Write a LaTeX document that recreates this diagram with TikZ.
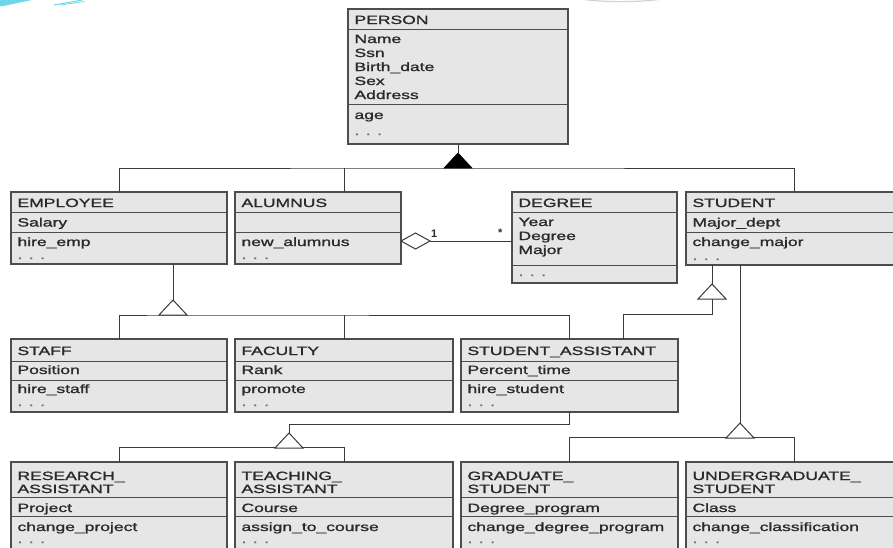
\documentclass[tikz,border=0pt]{standalone}
\usepackage{fontspec}
\setmainfont{Liberation Sans}
\newfontfamily\classfont[FakeBold=1.2]{Liberation Sans}
\usepackage{graphicx}
\usetikzlibrary{fit}

\definecolor{boxfill}{HTML}{E6E6E6}
\definecolor{boxline}{HTML}{4D4D4D}
\definecolor{wire}{HTML}{3A3A3A}
\definecolor{ink}{HTML}{2A2A2A}
\definecolor{dotgray}{HTML}{707070}
\definecolor{streak}{HTML}{6FD6EA}

% horizontally widened lettering
\newcommand\hs[1]{\scalebox{1.46}[1]{#1}}

\tikzset{
  cls/.style={draw=boxline, fill=boxfill, line width=1.1pt, inner sep=0pt, outer sep=0pt},
  sepline/.style={draw=boxline, line width=0.9pt},
  txt/.style={anchor=base west, inner sep=0pt, outer sep=0pt, text=ink,
              font=\classfont\fontsize{12}{14}\selectfont},
  dotrow/.style={txt, text=dotgray},
  mult/.style={anchor=base west, inner sep=0pt, text=ink,
              font=\fontsize{11}{13}\selectfont\bfseries},
  link/.style={draw=wire, line width=1pt},
  hollow/.style={draw=wire, line width=1pt, fill=white, line join=miter},
  solid/.style={draw=black, fill=black, line width=0.6pt, line join=miter},
}

% class box: name, left, top, right, bottom, first divider, second divider
\newcommand\umlbox[7]{%
  \node[cls, fit={(#2,#3) (#4,#5)}] (#1) {};
  \draw[sepline] (#2,#6) -- (#4,#6);
  \draw[sepline] (#2,#7) -- (#4,#7);
}
% one line of text in a class box: name, x, baseline, text
\newcommand\rowtext[4]{\node[txt] (#1) at (#2,#3) {\hs{#4}};}
\newcommand\rowdots[3]{\node[dotrow] (#1) at (#2,#3) {\hs{. . .}};}
% inheritance triangle hanging below its apex
\newcommand\isatri[2]{\draw[#1] (#2) -- ++(-14,15) -- ++(28,0) -- cycle;}

\begin{document}
\begin{tikzpicture}[x=1pt, y=-1pt]
\useasboundingbox (0,0) rectangle (893,547);
\clip (0,0) rectangle (893,547);

% stray marks along the top edge
\fill[streak] (0,0) -- (32,0) -- (3,6) -- (0,6) -- cycle;
\draw[streak, line width=1pt] (54,5) -- (82,0);
\draw[streak, line width=0.8pt] (60,5) -- (84,1.5);
\draw[gray!35, line width=1.2pt] (582,-1) .. controls (600,2.5) and (640,2.5) .. (662,-1);

% ---------- classes ----------
\umlbox{person}{348}{9}{568}{144}{29}{104}
\rowtext{person-h}{354.5}{24}{PERSON}
\rowtext{person-a1}{354.5}{43}{Name}
\rowtext{person-a2}{354.5}{57}{Ssn}
\rowtext{person-a3}{354.5}{71}{Birth\_date}
\rowtext{person-a4}{354.5}{85}{Sex}
\rowtext{person-a5}{354.5}{99}{Address}
\rowtext{person-m1}{354.5}{119}{age}
\rowdots{person-d}{354.5}{135}

\umlbox{employee}{11}{192}{227}{264}{212}{232}
\rowtext{employee-h}{17.5}{207}{EMPLOYEE}
\rowtext{employee-a1}{17.5}{226.5}{Salary}
\rowtext{employee-m1}{17.5}{246}{hire\_emp}
\rowdots{employee-d}{17.5}{259}

\umlbox{alumnus}{235}{192}{401}{264}{212}{232}
\rowtext{alumnus-h}{241.5}{207}{ALUMNUS}
\rowtext{alumnus-m1}{241.5}{246}{new\_alumnus}
\rowdots{alumnus-d}{241.5}{259}

\umlbox{degree}{512}{192}{677}{283}{212}{265}
\rowtext{degree-h}{518.5}{207}{DEGREE}
\rowtext{degree-a1}{518.5}{226}{Year}
\rowtext{degree-a2}{518.5}{240}{Degree}
\rowtext{degree-a3}{518.5}{254}{Major}
\rowdots{degree-d}{518.5}{276}

\umlbox{student}{686}{192}{902}{265}{212}{232}
\rowtext{student-h}{692.5}{207}{STUDENT}
\rowtext{student-a1}{692.5}{226.5}{Major\_dept}
\rowtext{student-m1}{692.5}{246}{change\_major}
\rowdots{student-d}{692.5}{260}

\umlbox{staff}{11}{339}{227}{412}{361}{380}
\rowtext{staff-h}{17.5}{355}{STAFF}
\rowtext{staff-a1}{17.5}{374}{Position}
\rowtext{staff-m1}{17.5}{393}{hire\_staff}
\rowdots{staff-d}{17.5}{406}

\umlbox{faculty}{235}{339}{453}{412}{361}{380}
\rowtext{faculty-h}{241.5}{355}{FACULTY}
\rowtext{faculty-a1}{241.5}{374}{Rank}
\rowtext{faculty-m1}{241.5}{393}{promote}
\rowdots{faculty-d}{241.5}{406}

\umlbox{sa}{461}{339}{678}{412}{361}{380}
\rowtext{sa-h}{467.5}{355}{STUDENT\_ASSISTANT}
\rowtext{sa-a1}{467.5}{374}{Percent\_time}
\rowtext{sa-m1}{467.5}{393}{hire\_student}
\rowdots{sa-d}{467.5}{406}

\umlbox{research}{11}{462}{227}{560}{497}{516}
\rowtext{research-h1}{17.5}{480}{RESEARCH\_}
\rowtext{research-h2}{17.5}{493}{ASSISTANT}
\rowtext{research-a1}{17.5}{512}{Project}
\rowtext{research-m1}{17.5}{531}{change\_project}
\rowdots{research-d}{17.5}{543}

\umlbox{teaching}{235}{462}{453}{560}{497}{516}
\rowtext{teaching-h1}{241.5}{480}{TEACHING\_}
\rowtext{teaching-h2}{241.5}{493}{ASSISTANT}
\rowtext{teaching-a1}{241.5}{512}{Course}
\rowtext{teaching-m1}{241.5}{531}{assign\_to\_course}
\rowdots{teaching-d}{241.5}{543}

\umlbox{grad}{461}{462}{678}{560}{497}{516}
\rowtext{grad-h1}{467.5}{480}{GRADUATE\_}
\rowtext{grad-h2}{467.5}{493}{STUDENT}
\rowtext{grad-a1}{467.5}{512}{Degree\_program}
\rowtext{grad-m1}{467.5}{531}{change\_degree\_program}
\rowdots{grad-d}{467.5}{543}

\umlbox{ugrad}{686}{462}{902}{560}{497}{516}
\rowtext{ugrad-h1}{692.5}{480}{UNDERGRADUATE\_}
\rowtext{ugrad-h2}{692.5}{493}{STUDENT}
\rowtext{ugrad-a1}{692.5}{512}{Class}
\rowtext{ugrad-m1}{692.5}{531}{change\_classification}
\rowdots{ugrad-d}{692.5}{543}

% ---------- generalisation: PERSON ----------
\coordinate (p-apex) at (458,153);
\coordinate (p-base) at (458,168);
\draw[link] (person.south) -- (p-apex);
\draw[link] (employee.north) |- (p-base) -| (student.north);
\draw[link] (alumnus.north -| faculty.north) -- (p-base -| faculty.north);
\isatri{solid}{p-apex}

% ---------- generalisation: EMPLOYEE ----------
\coordinate (e-apex) at (173,300);
\coordinate (e-base) at (173,315);
\draw[link] (employee.south -| e-apex) -- (e-apex);
\draw[link] (staff.north) |- (e-base) -| (sa.north);
\draw[link] (faculty.north) -- (faculty.north |- e-base);
\isatri{hollow}{e-apex}

% ---------- generalisation: STUDENT -> STUDENT_ASSISTANT ----------
\coordinate (s1-apex) at (712,284);
\coordinate (s1-base) at (712,299);
\coordinate (sa-join) at (623,339);
\draw[link] (student.south -| s1-apex) -- (s1-apex);
\draw[link] (s1-base) -- ++(0,15) -| (sa-join);
\isatri{hollow}{s1-apex}

% ---------- generalisation: STUDENT -> GRADUATE / UNDERGRADUATE ----------
\coordinate (s2-apex) at (740,423);
\coordinate (s2-base) at (740,437);
\draw[link] (student.south -| s2-apex) -- (s2-apex);
\draw[link] (grad.north) |- (s2-base) -| (ugrad.north);
\isatri{hollow}{s2-apex}

% ---------- generalisation: STUDENT_ASSISTANT ----------
\coordinate (a-apex) at (289,433);
\coordinate (a-base) at (289,447);
\draw[link] (sa.south) -- ++(0,12) -| (a-apex);
\draw[link] (research.north) |- (a-base) -| (teaching.north);
\isatri{hollow}{a-apex}

% ---------- aggregation ALUMNUS <>-- DEGREE ----------
\coordinate (dia-l) at ([yshift=-13pt]alumnus.east);
\coordinate (dia-r) at ([xshift=29pt]dia-l);
\draw[link] (dia-r) -- (degree.west |- dia-r);
\draw[hollow] (dia-l) -- ++(14.5,-8) -- (dia-r) -- ++(-14.5,8) -- cycle;
\node[mult] (mult-one) at (431,237) {1};
\node[mult] (mult-many) at (498,236) {*};
\end{tikzpicture}
\end{document}
